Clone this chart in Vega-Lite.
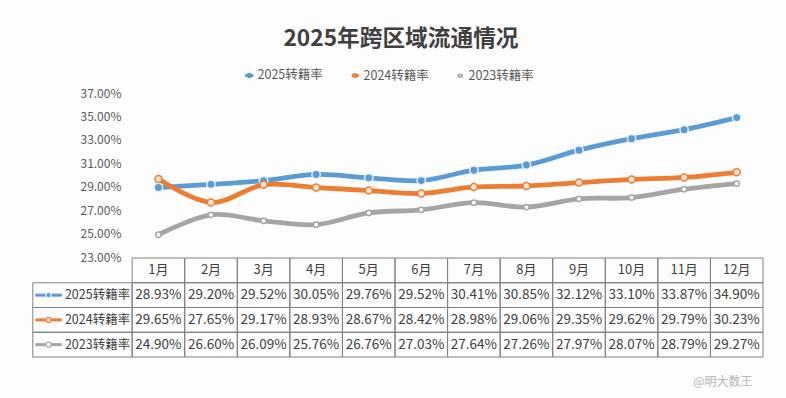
{
  "$schema": "https://vega.github.io/schema/vega-lite/v6.json",
  "width": 736,
  "height": 264,
  "autosize": "none",
  "padding": {"left": 27, "top": 93, "right": 23, "bottom": 41},
  "background": "#fdfdfd",
  "title": {
    "text": "2025年跨区域流通情况",
    "font": "Noto Sans CJK SC",
    "fontSize": 22.7,
    "fontWeight": "bold",
    "color": "#404040",
    "anchor": "middle",
    "offset": 18,
    "dx": 6
  },
  "datasets": {
    "rates": [
      {"month": "1月", "series": "2025转籍率", "v": 0.2893},
      {"month": "2月", "series": "2025转籍率", "v": 0.2920},
      {"month": "3月", "series": "2025转籍率", "v": 0.2952},
      {"month": "4月", "series": "2025转籍率", "v": 0.3005},
      {"month": "5月", "series": "2025转籍率", "v": 0.2976},
      {"month": "6月", "series": "2025转籍率", "v": 0.2952},
      {"month": "7月", "series": "2025转籍率", "v": 0.3041},
      {"month": "8月", "series": "2025转籍率", "v": 0.3085},
      {"month": "9月", "series": "2025转籍率", "v": 0.3212},
      {"month": "10月", "series": "2025转籍率", "v": 0.3310},
      {"month": "11月", "series": "2025转籍率", "v": 0.3387},
      {"month": "12月", "series": "2025转籍率", "v": 0.3490},
      {"month": "1月", "series": "2024转籍率", "v": 0.2965},
      {"month": "2月", "series": "2024转籍率", "v": 0.2765},
      {"month": "3月", "series": "2024转籍率", "v": 0.2917},
      {"month": "4月", "series": "2024转籍率", "v": 0.2893},
      {"month": "5月", "series": "2024转籍率", "v": 0.2867},
      {"month": "6月", "series": "2024转籍率", "v": 0.2842},
      {"month": "7月", "series": "2024转籍率", "v": 0.2898},
      {"month": "8月", "series": "2024转籍率", "v": 0.2906},
      {"month": "9月", "series": "2024转籍率", "v": 0.2935},
      {"month": "10月", "series": "2024转籍率", "v": 0.2962},
      {"month": "11月", "series": "2024转籍率", "v": 0.2979},
      {"month": "12月", "series": "2024转籍率", "v": 0.3023},
      {"month": "1月", "series": "2023转籍率", "v": 0.2490},
      {"month": "2月", "series": "2023转籍率", "v": 0.2660},
      {"month": "3月", "series": "2023转籍率", "v": 0.2609},
      {"month": "4月", "series": "2023转籍率", "v": 0.2576},
      {"month": "5月", "series": "2023转籍率", "v": 0.2676},
      {"month": "6月", "series": "2023转籍率", "v": 0.2703},
      {"month": "7月", "series": "2023转籍率", "v": 0.2764},
      {"month": "8月", "series": "2023转籍率", "v": 0.2726},
      {"month": "9月", "series": "2023转籍率", "v": 0.2797},
      {"month": "10月", "series": "2023转籍率", "v": 0.2807},
      {"month": "11月", "series": "2023转籍率", "v": 0.2879},
      {"month": "12月", "series": "2023转籍率", "v": 0.2927}
    ],
    "months": [
      {"month": "1月"}, {"month": "2月"}, {"month": "3月"}, {"month": "4月"},
      {"month": "5月"}, {"month": "6月"}, {"month": "7月"}, {"month": "8月"},
      {"month": "9月"}, {"month": "10月"}, {"month": "11月"}, {"month": "12月"}
    ],
    "series": [
      {"series": "2025转籍率"}, {"series": "2024转籍率"}, {"series": "2023转籍率"}
    ],
    "marks": [
      {"text": "@明大数王"}
    ]
  },
  "layer": [
    {
      "data": {"name": "rates"},
      "encoding": {
        "x": {
          "field": "month", "type": "nominal",
          "scale": {"type": "band", "domain": ["_a", "_b", "1月", "2月", "3月", "4月", "5月", "6月", "7月", "8月", "9月", "10月", "11月", "12月"], "paddingInner": 0, "paddingOuter": 0},
          "axis": null
        },
        "y": {
          "field": "v", "type": "quantitative",
          "scale": {"domain": [0.23, 0.37], "range": [164, 0], "nice": false, "zero": false},
          "axis": {
            "values": [0.23, 0.25, 0.27, 0.29, 0.31, 0.33, 0.35, 0.37],
            "format": ".2%",
            "offset": -105,
            "domain": false,
            "ticks": false,
            "grid": false,
            "labelPadding": 11,
            "title": null,
            "labelFont": "Noto Sans CJK SC",
            "labelFontSize": 12,
            "labelColor": "#595959"
          }
        }
      },
      "layer": [
        {
          "mark": {"type": "line", "interpolate": "cardinal", "strokeWidth": 4.8, "strokeCap": "round"},
          "encoding": {
            "color": {
              "field": "series", "type": "nominal",
              "scale": {"domain": ["2025转籍率", "2024转籍率", "2023转籍率"], "range": ["#5b9bd5", "#ed7d31", "#a5a5a5"]},
              "legend": {
                "orient": "none",
                "legendX": 216,
                "legendY": -24,
                "direction": "horizontal",
                "title": null,
                "symbolType": "M-1,0H-0.3M0.3,0H1M-0.3,0A0.3,0.3 0 1,1 0.3,0A0.3,0.3 0 1,1 -0.3,0",
                "symbolSize": 730,
                "symbolStrokeWidth": 3,
                "labelFont": "Noto Sans CJK SC",
                "labelFontSize": 12.5,
                "labelColor": "#595959",
                "labelOffset": 2,
                "columnPadding": 22
              }
            }
          }
        },
        {
          "mark": {"type": "point", "filled": true, "strokeWidth": 1.5, "opacity": 1},
          "encoding": {
            "fill": {"field": "series", "type": "nominal", "scale": {"domain": ["2025转籍率", "2024转籍率", "2023转籍率"], "range": ["#5b9bd5", "#fbe5d6", "#ffffff"]}, "legend": null},
            "stroke": {"field": "series", "type": "nominal", "scale": {"domain": ["2025转籍率", "2024转籍率", "2023转籍率"], "range": ["#e3eef8", "#ed7d31", "#a5a5a5"]}, "legend": null},
            "size": {"field": "series", "type": "nominal", "scale": {"domain": ["2025转籍率", "2024转籍率", "2023转籍率"], "range": [70, 28, 36]}, "legend": null}
          }
        }
      ]
    },
    {
      "encoding": {
        "y": {
          "field": "series", "type": "nominal",
          "scale": {"type": "band", "domain": ["header", "2025转籍率", "2024转籍率", "2023转籍率", "wm"], "range": [165, 288.75], "paddingInner": 0, "paddingOuter": 0},
          "axis": null
        }
      },
      "layer": [
        {
          "data": {"name": "rates"},
          "mark": {"type": "rect", "fill": "white", "fillOpacity": 0, "stroke": "#808080", "strokeWidth": 1},
          "encoding": {
            "x": {"field": "month", "type": "nominal"}
          }
        },
        {
          "data": {"name": "months"},
          "mark": {"type": "rect", "fill": "white", "fillOpacity": 0, "stroke": "#808080", "strokeWidth": 1},
          "encoding": {
            "x": {"field": "month", "type": "nominal"},
            "y": {"datum": "header", "type": "nominal"}
          }
        },
        {
          "data": {"name": "series"},
          "mark": {"type": "rect", "fill": "white", "fillOpacity": 0, "stroke": "#808080", "strokeWidth": 1},
          "encoding": {
            "x": {"datum": "_a", "type": "nominal", "bandPosition": 0.11},
            "x2": {"datum": "1月", "bandPosition": 0}
          }
        },
        {
          "data": {"name": "months"},
          "mark": {"type": "text", "font": "Noto Sans CJK SC", "fontSize": 13, "color": "#404040"},
          "encoding": {
            "x": {"field": "month", "type": "nominal"},
            "y": {"datum": "header", "type": "nominal"},
            "text": {"field": "month"}
          }
        },
        {
          "data": {"name": "rates"},
          "mark": {"type": "text", "font": "Noto Sans CJK SC", "fontSize": 13.5, "color": "#404040"},
          "encoding": {
            "x": {"field": "month", "type": "nominal"},
            "text": {"field": "v", "format": ".2%"}
          }
        },
        {
          "data": {"name": "series"},
          "mark": {"type": "text", "font": "Noto Sans CJK SC", "fontSize": 12.5, "color": "#404040", "align": "right", "dx": -2},
          "encoding": {
            "x": {"datum": "1月", "type": "nominal", "bandPosition": 0},
            "text": {"field": "series"}
          }
        },
        {
          "data": {"name": "series"},
          "mark": {"type": "point", "shape": "M-1,0H1", "size": 700, "strokeWidth": 3, "filled": false, "opacity": 1},
          "encoding": {
            "x": {"datum": "_a", "type": "nominal", "bandPosition": 0.41},
            "color": {"field": "series", "type": "nominal"}
          }
        },
        {
          "data": {"name": "series"},
          "mark": {"type": "point", "filled": true, "strokeWidth": 1.2, "opacity": 1},
          "encoding": {
            "x": {"datum": "_a", "type": "nominal", "bandPosition": 0.41},
            "fill": {"field": "series", "type": "nominal", "legend": null},
            "stroke": {"field": "series", "type": "nominal", "legend": null},
            "size": {"value": 28}
          }
        },
        {
          "data": {"name": "marks"},
          "mark": {"type": "text", "font": "Noto Sans CJK SC", "fontSize": 12, "color": "#b5b5b5", "align": "right", "baseline": "middle"},
          "encoding": {
            "x": {"datum": "12月", "type": "nominal", "bandPosition": 0.8},
            "y": {"datum": "wm", "type": "nominal", "bandPosition": 1},
            "text": {"field": "text"}
          }
        }
      ]
    }
  ],
  "resolve": {"scale": {"y": "independent"}},
  "config": {
    "view": {"stroke": null},
    "font": "Noto Sans CJK SC"
  }
}
